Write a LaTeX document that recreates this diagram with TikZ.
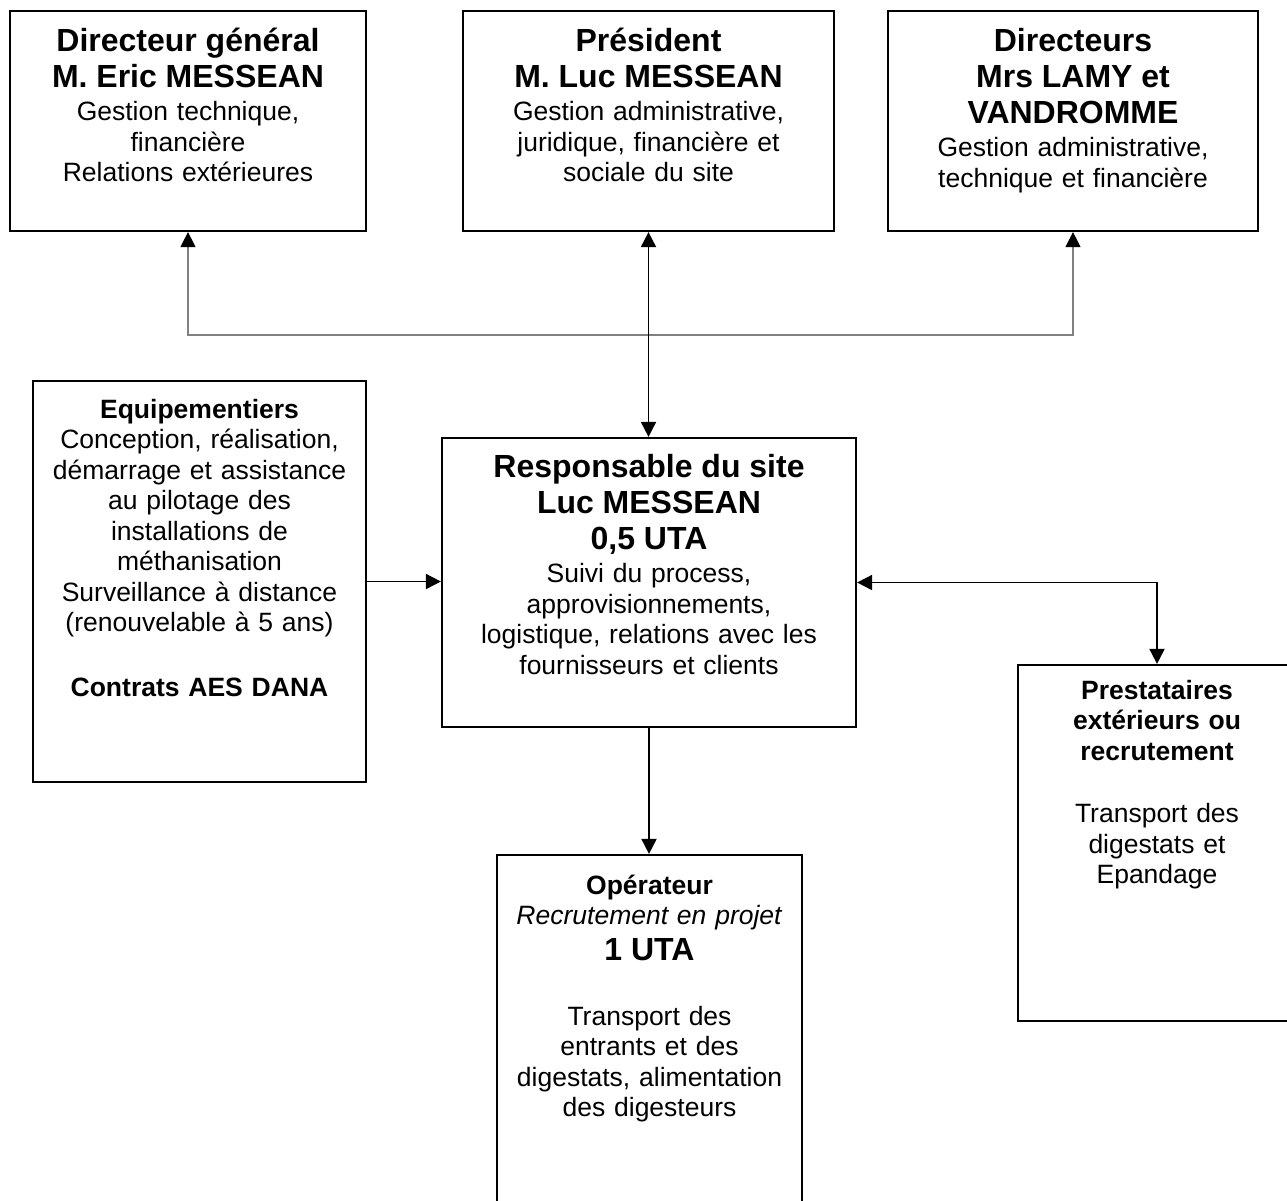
\documentclass[tikz,border=0pt]{standalone}
\usepackage{fontspec}
\setmainfont{Liberation Sans}
\usetikzlibrary{positioning, arrows.meta}
\newcommand{\grand}{\fontsize{32}{36}\selectfont\bfseries}
\newcommand{\petit}{\fontsize{26.5}{30.5}\selectfont}

\begin{document}
\begin{tikzpicture}[x=1pt, y=-1pt]
  % styles
  \tikzset{boite/.style = {draw, line width=2.2pt, inner sep=0pt}}
  \tikzset{txt/.style = {align=center, text width=420pt, inner sep=0pt, font=\petit}}
  \tikzset{fleche/.style = {draw, line width=1.8pt, -{Triangle[length=15pt, width=15pt]}}}
  \tikzset{fleches/.style = {draw, line width=1.8pt, {Triangle[length=15pt, width=15pt]}-{Triangle[length=15pt, width=15pt]}}}
  \tikzset{gris/.style = {draw, line width=1.2pt, color=gray, {Triangle[length=15pt, width=15pt, color=black]}-{Triangle[length=15pt, width=15pt, color=black]}}}

  \useasboundingbox (0,0) rectangle (1287,1200);
  \clip (0,0) rectangle (1287,1200);

  % boites
  \node[boite, minimum width=356pt, minimum height=220pt] (dg) at (188,121) {};
  \node[boite, minimum width=371pt, minimum height=220pt] (pres) at (648.5,121) {};
  \node[boite, minimum width=370pt, minimum height=220pt] (dirs) at (1073,121) {};
  \node[boite, minimum width=333pt, minimum height=401pt] (equip) at (199.5,581.5) {};
  \node[boite, minimum width=414pt, minimum height=289pt] (resp) at (649,582.5) {};
  \node[boite, minimum width=305pt, minimum height=380pt] (oper) at (649.5,1045) {};
  \node[boite, minimum width=278pt, minimum height=356pt] (prest) at (1157,843) {};

  % textes
  \node[txt, below=15.8pt of dg.north] (dgt) {{\grand\strut Directeur général\\ M. Eric MESSEAN\par}
    \vspace*{3pt}Gestion technique,\\ financière\\ Relations extérieures};
  \node[txt, below=15.8pt of pres.north] (prest-t) {{\grand\strut Président\\ M. Luc MESSEAN\par}
    \vspace*{3pt}Gestion administrative,\\ juridique, financière et\\ sociale du site};
  \node[txt, below=15.8pt of dirs.north] (dirst) {{\grand\strut Directeurs\\ Mrs LAMY et\\ VANDROMME\par}
    \vspace*{3pt}Gestion administrative,\\ technique et financière};
  \node[txt, below=16.6pt of equip.north] (equipt) {\textbf{\strut Equipementiers}\\ Conception, réalisation,\\
    démarrage et assistance\\ au pilotage des\\ installations de\\ méthanisation\\ Surveillance à distance\\
    (renouvelable à 5 ans)\\[34pt] \textbf{Contrats AES DANA}};
  \node[txt, below=14.8pt of resp.north] (respt) {{\grand\strut Responsable du site\\ Luc MESSEAN\\ 0,5 UTA\par}
    \vspace*{3pt}Suivi du process,\\ approvisionnements,\\ logistique, relations avec les\\ fournisseurs et clients};
  \node[txt, below=18.6pt of oper.north] (opert) {\textbf{\strut Opérateur}\\ \textit{Recrutement en projet}\par
    {\grand 1 UTA\par}\vspace*{34pt}Transport des\\ entrants et des\\ digestats, alimentation\\ des digesteurs};
  \node[txt, below=13.6pt of prest.north] (prestt) {\textbf{\strut Prestataires\\ extérieurs ou\\ recrutement}\\[32pt]
    Transport des\\ digestats et\\ Epandage};

  % liaisons
  \coordinate (jg) at (188,335);
  \coordinate (jd) at (1073,335);
  \draw[gris] (dg.south) -- (jg) -- (jd) -- (dirs.south);
  \draw[fleches] (pres.south) -- (pres.south |- resp.north);
  \draw[fleche] (equip.east) -- (equip.east -| resp.west);
  \draw[fleche] (resp.south) -- (resp.south |- oper.north);
  \draw[fleches] (resp.east) -| (prest.north);
\end{tikzpicture}
\end{document}
